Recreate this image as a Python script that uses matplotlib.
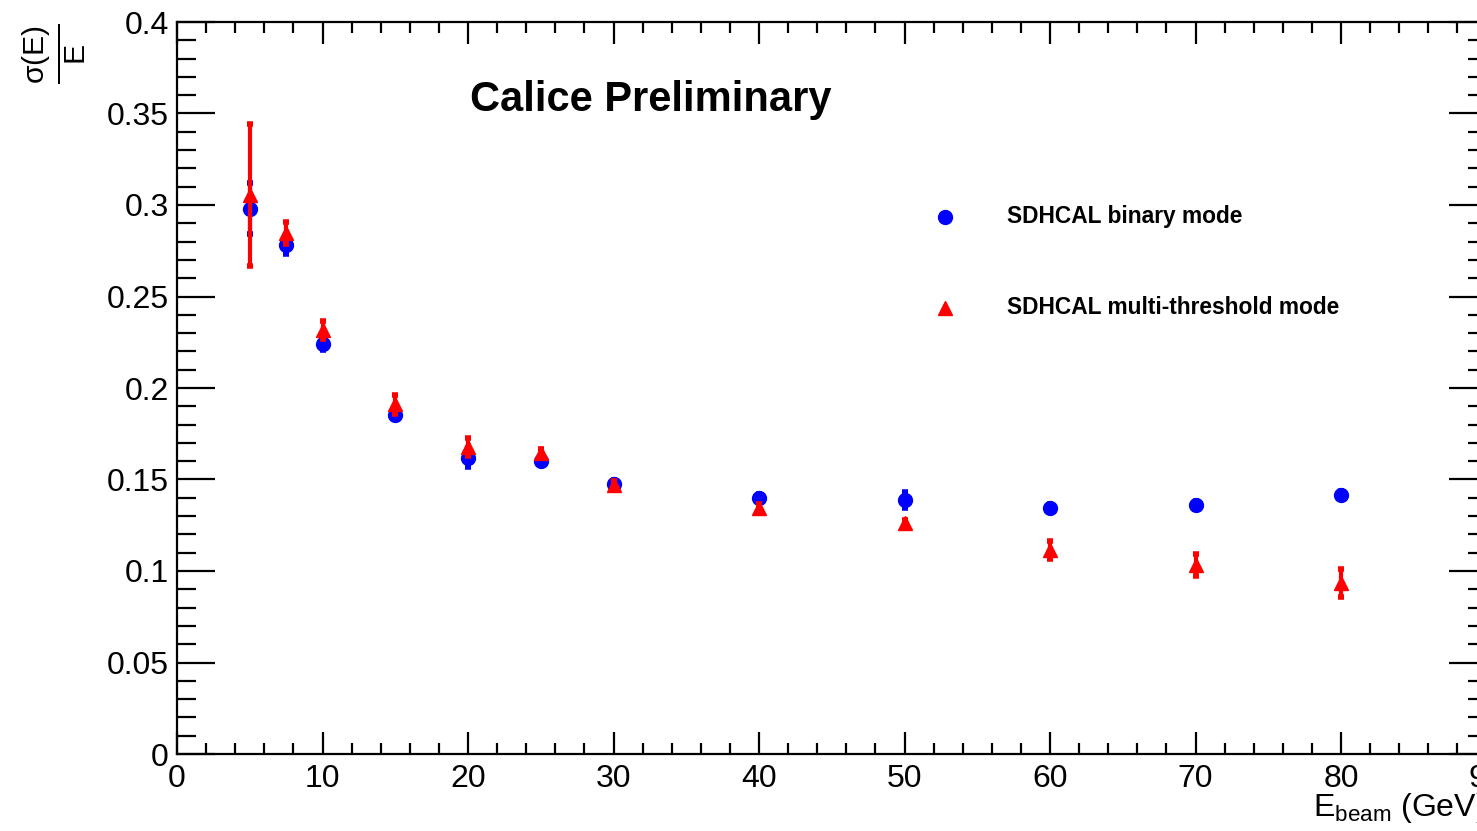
import numpy as np
import matplotlib
matplotlib.use("Agg")
import matplotlib.pyplot as plt
from matplotlib.ticker import MultipleLocator

plt.rcParams['font.family'] = ['Liberation Sans', 'DejaVu Sans']
plt.rcParams['mathtext.fontset'] = 'custom'
plt.rcParams['mathtext.rm'] = 'Liberation Sans'
plt.rcParams['mathtext.it'] = 'Liberation Sans'

# beam energies (GeV)
energy = [5, 7.5, 10, 15, 20, 25, 30, 40, 50, 60, 70, 80]

# relative resolution, binary mode
binary_res = [0.298, 0.278, 0.224, 0.185, 0.162, 0.160, 0.1475, 0.140, 0.1388, 0.1344, 0.136, 0.1415]
binary_err = [0.014, 0.005, 0.003, 0.002, 0.005, 0.002, 0.002, 0.002, 0.0045, 0.002, 0.002, 0.002]

# relative resolution, multi-threshold mode
multi_res = [0.3055, 0.2847, 0.2317, 0.191, 0.1678, 0.1645, 0.147, 0.1344, 0.126, 0.1115, 0.1033, 0.0934]
multi_err = [0.039, 0.006, 0.005, 0.005, 0.005, 0.002, 0.002, 0.002, 0.002, 0.005, 0.006, 0.0075]


def main():
    fig = plt.figure(figsize=(14.77, 8.31), dpi=100)
    ax = fig.add_axes([177 / 1477, 1 - 754 / 831, (1486.5 - 177) / 1477, (754 - 22) / 831])

    ax.errorbar(energy, binary_res, yerr=binary_err, fmt='o', color='blue',
                markersize=10, elinewidth=3, capsize=2, capthick=4, zorder=3)
    ax.errorbar(energy, multi_res, yerr=multi_err, fmt='^', color='red',
                markersize=10, elinewidth=3, capsize=2, capthick=4, zorder=4)

    ax.set_xlim(0, 90)
    ax.set_ylim(0, 0.4)

    ax.xaxis.set_major_locator(MultipleLocator(10))
    ax.xaxis.set_minor_locator(MultipleLocator(2))
    ax.yaxis.set_minor_locator(MultipleLocator(0.01))

    ax.set_yticks(np.arange(0, 0.401, 0.05))
    ax.set_yticklabels(['0', '0.05', '0.1', '0.15', '0.2', '0.25', '0.3', '0.35', '0.4'])

    ax.tick_params(axis='both', which='both', direction='in', top=True, right=True,
                   width=1.6, labelsize=23)
    ax.tick_params(axis='x', which='major', length=16, pad=7)
    ax.tick_params(axis='x', which='minor', length=8)
    ax.tick_params(axis='y', which='major', length=27.5, pad=6)
    ax.tick_params(axis='y', which='minor', length=14)
    for s in ax.spines.values():
        s.set_linewidth(1.6)

    # title inside the frame
    fig.text(470 / 1477, 1 - 100 / 831, 'Calice Preliminary', fontsize=30,
             fontweight='bold', ha='left', va='center')

    # legend drawn by hand
    ax.plot([52.8], [0.2935], 'o', color='blue', markersize=10, clip_on=False)
    ax.plot([52.8], [0.2435], '^', color='red', markersize=10, clip_on=False)
    fig.text(1007 / 1477, 1 - 217 / 831, 'SDHCAL binary mode', fontsize=16.4,
             fontweight='bold', ha='left', va='center')
    fig.text(1007 / 1477, 1 - 308 / 831, 'SDHCAL multi-threshold mode', fontsize=16.4,
             fontweight='bold', ha='left', va='center')

    # axis titles
    fig.text(1313 / 1477, 1 - 808 / 831, r'E$_{\mathrm{beam}}$ (GeV)', fontsize=23,
             ha='left', va='center')
    fig.text(55 / 1477, 1 - 54 / 831, r'$\frac{\sigma(E)}{E}$', fontsize=31,
             rotation=90, ha='center', va='center')

    fig.savefig('out.png', dpi=100)
    plt.close(fig)


if __name__ == "__main__":
    main()
